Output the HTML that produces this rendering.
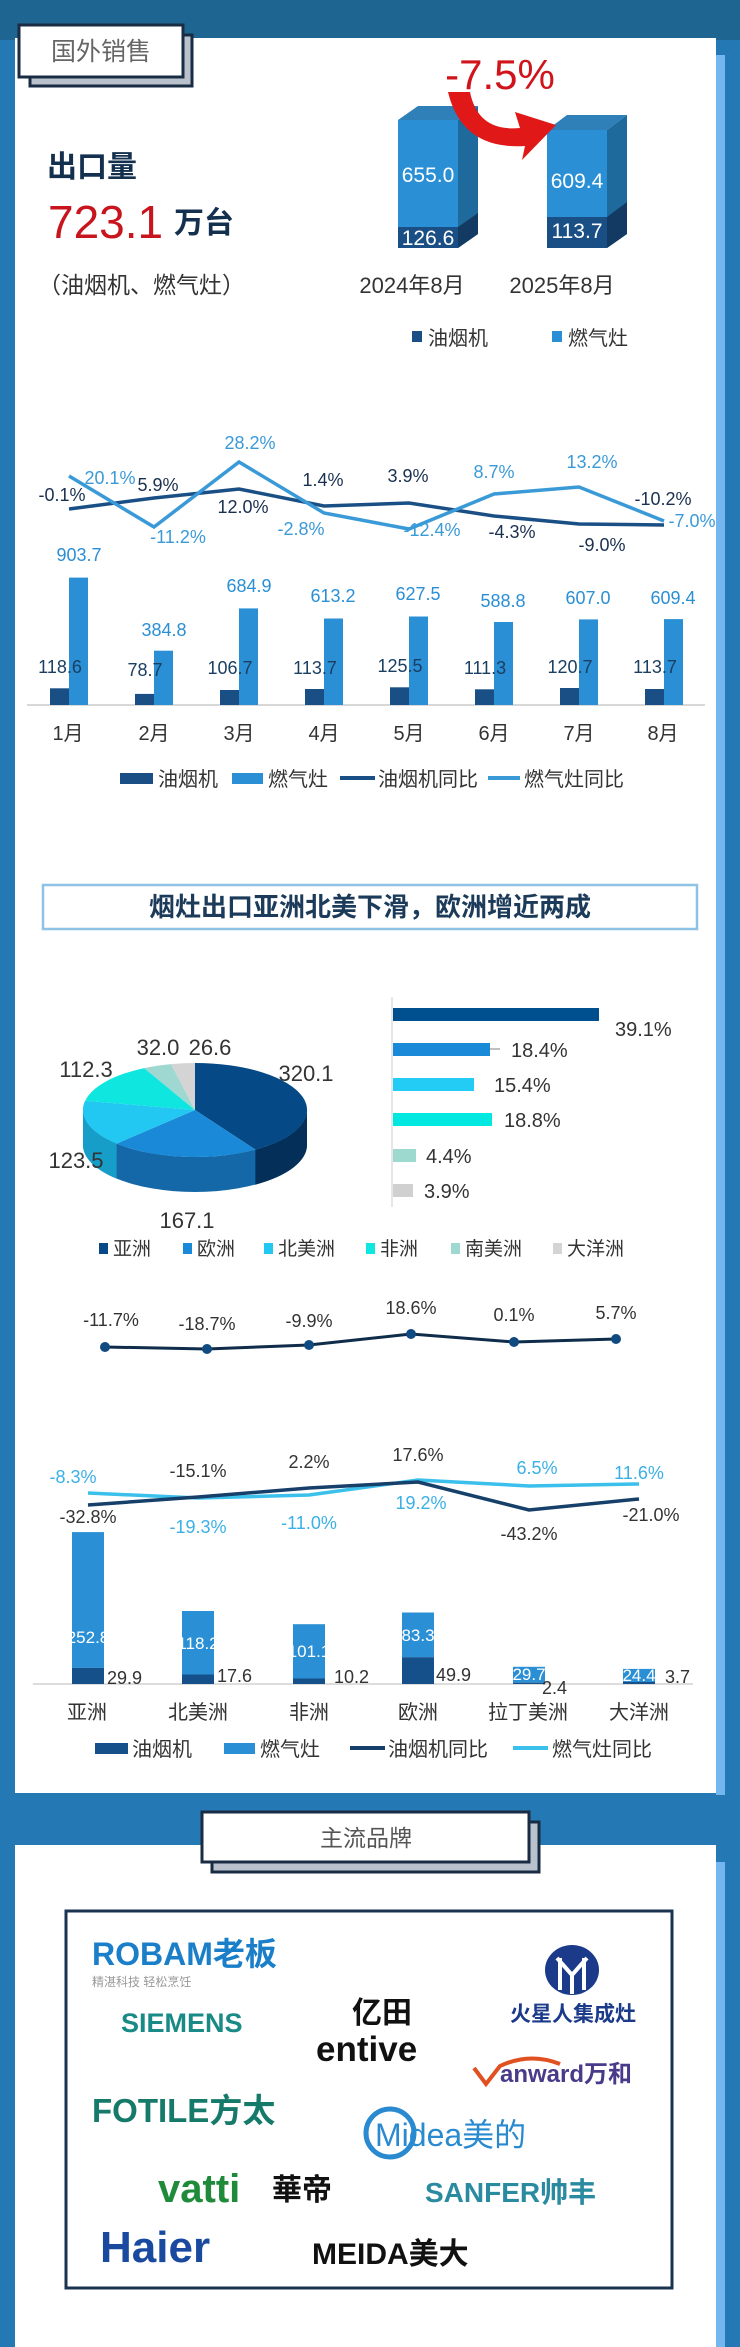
<!DOCTYPE html>
<html><head><meta charset="utf-8">
<style>
html,body{margin:0;padding:0;}
body{width:740px;height:2347px;overflow:hidden;background:#2478b3;}
svg{display:block;font-family:"Liberation Sans","Noto Sans CJK SC",sans-serif;}
</style></head><body>
<svg width="740" height="2347" viewBox="0 0 740 2347" xmlns="http://www.w3.org/2000/svg">
<rect x="0" y="0" width="740" height="2347" fill="#2478b3"/>
<rect x="0" y="0" width="740" height="40" fill="#1f6592"/>
<rect x="15" y="38" width="701" height="1755" fill="#ffffff"/>
<rect x="716" y="55" width="9" height="1740" fill="#74b6f0"/>
<rect x="15" y="1845" width="701" height="502" fill="#ffffff"/>
<rect x="716" y="1862" width="9" height="485" fill="#74b6f0"/>

<rect x="30" y="35" width="162" height="51" fill="#b9c2cc" stroke="#1a2c44" stroke-width="3"/>
<rect x="19" y="25" width="164" height="52" fill="#ffffff" stroke="#1a2c44" stroke-width="3"/>
<text x="101" y="60" font-size="25" fill="#666" text-anchor="middle">国外销售</text>

<text x="47" y="177" font-size="30" fill="#14304f" font-weight="bold">出口量</text>
<text x="48" y="238" font-size="46" fill="#c8141c">723.1</text>
<text x="174" y="233" font-size="30" fill="#14304f" font-weight="bold">万台</text>
<text x="38" y="293" font-size="23" fill="#333">（油烟机、燃气灶）</text>

<polygon points="398,120 458,120 478,106 418,106" fill="#2f7fb8"/>
<polygon points="458,120 478,106 478,234 458,248" fill="#1f6a9c"/>
<polygon points="458,227 478,213 478,234 458,248" fill="#123a62"/>
<rect x="398" y="120" width="60" height="107" fill="#2a8fd4"/>
<rect x="398" y="227" width="60" height="21" fill="#1a4f85"/>
<text x="428" y="182" font-size="21" fill="#fff" text-anchor="middle">655.0</text>
<text x="428" y="245" font-size="21" fill="#fff" text-anchor="middle">126.6</text>

<polygon points="547,130 607,130 627,115 567,115" fill="#2f7fb8"/>
<polygon points="607,130 627,115 627,234 607,248" fill="#1f6a9c"/>
<polygon points="607,217 627,202 627,234 607,248" fill="#123a62"/>
<rect x="547" y="130" width="60" height="87" fill="#2a8fd4"/>
<rect x="547" y="217" width="60" height="31" fill="#1a4f85"/>
<text x="577" y="188" font-size="21" fill="#fff" text-anchor="middle">609.4</text>
<text x="577" y="238" font-size="21" fill="#fff" text-anchor="middle">113.7</text>

<path d="M448 92 Q462 150 525 146 L522 160 L556 125 L515 112 L520 128 Q478 132 470 92 Z" fill="#e01818"/>
<text x="500" y="89" font-size="42" fill="#d0141c" text-anchor="middle">-7.5%</text>

<text x="412" y="293" font-size="22" fill="#333" text-anchor="middle">2024年8月</text>
<text x="562" y="293" font-size="22" fill="#333" text-anchor="middle">2025年8月</text>
<rect x="412" y="331" width="10" height="11" fill="#1a4f85"/>
<text x="428" y="345" font-size="20" fill="#333">油烟机</text>
<rect x="552" y="331" width="10" height="11" fill="#2a8fd4"/>
<text x="568" y="345" font-size="20" fill="#333">燃气灶</text>

<line x1="27" y1="705" x2="705" y2="705" stroke="#d8d8d8" stroke-width="2"/>
<g fill="#1a4f85">
<rect x="50" y="688.3" width="19" height="16.7"/>
<rect x="135" y="693.9" width="19" height="11.1"/>
<rect x="220" y="690" width="19" height="15"/>
<rect x="305" y="689" width="19" height="16"/>
<rect x="390" y="687.3" width="19" height="17.7"/>
<rect x="475" y="689.3" width="19" height="15.7"/>
<rect x="560" y="688" width="19" height="17"/>
<rect x="645" y="689" width="19" height="16"/>
</g>
<g fill="#2a8fd4">
<rect x="69" y="577.6" width="19" height="127.4"/>
<rect x="154" y="650.7" width="19" height="54.3"/>
<rect x="239" y="608.4" width="19" height="96.6"/>
<rect x="324" y="618.5" width="19" height="86.5"/>
<rect x="409" y="616.5" width="19" height="88.5"/>
<rect x="494" y="622" width="19" height="83"/>
<rect x="579" y="619.4" width="19" height="85.6"/>
<rect x="664" y="619.1" width="19" height="85.9"/>
</g>
<g font-size="18" fill="#2a8fd4" text-anchor="middle">
<text x="79" y="561">903.7</text><text x="164" y="636">384.8</text><text x="249" y="592">684.9</text><text x="333" y="602">613.2</text><text x="418" y="600">627.5</text><text x="503" y="607">588.8</text><text x="588" y="604">607.0</text><text x="673" y="604">609.4</text>
</g>
<g font-size="18" fill="#1a3f62" text-anchor="middle">
<text x="60" y="673">118.6</text><text x="145" y="676">78.7</text><text x="230" y="674">106.7</text><text x="315" y="674">113.7</text><text x="400" y="672">125.5</text><text x="485" y="674">111.3</text><text x="570" y="673">120.7</text><text x="655" y="673">113.7</text>
</g>
<polyline points="69,509 154,498 239,489 324,506 409,503 494,516 579,524 664,525" fill="none" stroke="#1a4f85" stroke-width="3.5"/>
<polyline points="69,476 154,527 239,462 324,513 409,529 494,494 579,487 664,521" fill="none" stroke="#3a9ad8" stroke-width="3.5"/>
<g font-size="18" fill="#1a3050" text-anchor="middle">
<text x="62" y="501">-0.1%</text><text x="158" y="491">5.9%</text><text x="243" y="513">12.0%</text><text x="323" y="486">1.4%</text><text x="408" y="482">3.9%</text><text x="512" y="538">-4.3%</text><text x="602" y="551">-9.0%</text><text x="663" y="505">-10.2%</text>
</g>
<g font-size="18" fill="#3a9ad8" text-anchor="middle">
<text x="110" y="484">20.1%</text><text x="178" y="543">-11.2%</text><text x="250" y="449">28.2%</text><text x="301" y="535">-2.8%</text><text x="432" y="536">-12.4%</text><text x="494" y="478">8.7%</text><text x="592" y="468">13.2%</text><text x="692" y="527">-7.0%</text>
</g>
<g font-size="20" fill="#333" text-anchor="middle">
<text x="68" y="740">1月</text><text x="154" y="740">2月</text><text x="239" y="740">3月</text><text x="324" y="740">4月</text><text x="409" y="740">5月</text><text x="494" y="740">6月</text><text x="579" y="740">7月</text><text x="663" y="740">8月</text>
</g>
<rect x="120" y="773" width="33" height="11" fill="#1a4f85"/>
<text x="158" y="786" font-size="20" fill="#333">油烟机</text>
<rect x="232" y="773" width="31" height="11" fill="#2a8fd4"/>
<text x="268" y="786" font-size="20" fill="#333">燃气灶</text>
<line x1="340" y1="778" x2="375" y2="778" stroke="#1a4f85" stroke-width="4"/>
<text x="378" y="786" font-size="20" fill="#333">油烟机同比</text>
<line x1="488" y1="778" x2="520" y2="778" stroke="#3a9ad8" stroke-width="4"/>
<text x="524" y="786" font-size="20" fill="#333">燃气灶同比</text>

<rect x="43" y="885" width="654" height="44" fill="#fff" stroke="#8ec3e6" stroke-width="2.5"/>
<text x="370" y="916" font-size="26" fill="#1c3b5a" text-anchor="middle" font-weight="bold">烟灶出口亚洲北美下滑，欧洲增近两成</text>

<path d="M83 1110 A112 47 0 0 0 307 1110 L307 1145 A112 47 0 0 1 83 1145 Z" fill="#1468a8"/>
<path d="M307 1110 A112 47 0 0 1 255.4 1149.6 L255.4 1184.6 A112 47 0 0 0 307 1145 Z" fill="#032f58"/>
<path d="M116.6 1143.6 A112 47 0 0 1 83 1110 L83 1145 A112 47 0 0 0 116.6 1178.6 Z" fill="#179ec8"/>
<path d="M195 1110 L195 1063 A112 47 0 0 1 255.4 1149.6 Z" fill="#054a86"/>
<path d="M195 1110 L255.4 1149.6 A112 47 0 0 1 116.6 1143.6 Z" fill="#1a8ad8"/>
<path d="M195 1110 L116.6 1143.6 A112 47 0 0 1 85.1 1100.8 Z" fill="#22c8f2"/>
<path d="M195 1110 L85.1 1100.8 A112 47 0 0 1 144.2 1068.1 Z" fill="#10e6e0"/>
<path d="M195 1110 L144.2 1068.1 A112 47 0 0 1 171.1 1064.1 Z" fill="#9fd8d0"/>
<path d="M195 1110 L171.1 1064.1 A112 47 0 0 1 195 1063 Z" fill="#d4d4d4"/>
<g font-size="22" fill="#333" text-anchor="middle">
<text x="306" y="1081">320.1</text><text x="187" y="1228">167.1</text><text x="76" y="1168">123.5</text><text x="86" y="1077">112.3</text><text x="158" y="1055">32.0</text><text x="210" y="1055">26.6</text>
</g>
<line x1="392" y1="997" x2="392" y2="1207" stroke="#ddd" stroke-width="1.5"/>
<rect x="393" y="1008" width="206" height="13" fill="#004f8f"/>
<rect x="393" y="1043" width="97" height="13" fill="#1a8ad8"/>
<line x1="490" y1="1049" x2="500" y2="1049" stroke="#aaa" stroke-width="1.5"/>
<rect x="393" y="1078" width="81" height="13" fill="#22ccf5"/>
<rect x="393" y="1113" width="99" height="13" fill="#00e8e0"/>
<rect x="393" y="1149" width="23" height="13" fill="#9ed9d0"/>
<rect x="393" y="1184" width="20" height="13" fill="#d0d0d0"/>
<g font-size="20" fill="#333">
<text x="615" y="1036">39.1%</text><text x="511" y="1057">18.4%</text><text x="494" y="1092">15.4%</text><text x="504" y="1127">18.8%</text><text x="426" y="1163">4.4%</text><text x="424" y="1198">3.9%</text>
</g>
<g font-size="19" fill="#333">
<rect x="99" y="1243" width="9" height="11" fill="#054a86"/><text x="113" y="1255">亚洲</text>
<rect x="183" y="1243" width="9" height="11" fill="#1a8ad8"/><text x="197" y="1255">欧洲</text>
<rect x="264" y="1243" width="9" height="11" fill="#22c8f2"/><text x="278" y="1255">北美洲</text>
<rect x="366" y="1243" width="9" height="11" fill="#10e6e0"/><text x="380" y="1255">非洲</text>
<rect x="451" y="1243" width="9" height="11" fill="#9fd8d0"/><text x="465" y="1255">南美洲</text>
<rect x="553" y="1243" width="9" height="11" fill="#d4d4d4"/><text x="567" y="1255">大洋洲</text>
</g>

<polyline points="105,1347 207,1349 309,1345 411,1334 514,1342 616,1339" fill="none" stroke="#0f2c4a" stroke-width="3"/>
<g fill="#0f4a80">
<circle cx="105" cy="1347" r="5"/><circle cx="207" cy="1349" r="5"/><circle cx="309" cy="1345" r="5"/><circle cx="411" cy="1334" r="5"/><circle cx="514" cy="1342" r="5"/><circle cx="616" cy="1339" r="5"/>
</g>
<g font-size="18" fill="#333" text-anchor="middle">
<text x="111" y="1326">-11.7%</text><text x="207" y="1330">-18.7%</text><text x="309" y="1327">-9.9%</text><text x="411" y="1314">18.6%</text><text x="514" y="1321">0.1%</text><text x="616" y="1319">5.7%</text>
</g>

<line x1="33" y1="1684" x2="693" y2="1684" stroke="#ddd" stroke-width="2"/>
<g fill="#2a8fd4">
<rect x="72" y="1532.1" width="32" height="135.8"/>
<rect x="182" y="1611" width="32" height="63.5"/>
<rect x="293" y="1624.2" width="32" height="54.3"/>
<rect x="402" y="1612.5" width="32" height="44.7"/>
<rect x="513" y="1666.8" width="32" height="15.9"/>
<rect x="623" y="1668.9" width="32" height="13.1"/>
</g>
<g fill="#15508a">
<rect x="72" y="1667.9" width="32" height="16.1"/>
<rect x="182" y="1674.5" width="32" height="9.5"/>
<rect x="293" y="1678.5" width="32" height="5.5"/>
<rect x="402" y="1657.2" width="32" height="26.8"/>
<rect x="513" y="1682.7" width="32" height="1.3"/>
<rect x="623" y="1682" width="32" height="2"/>
</g>
<g font-size="17" fill="#fff" text-anchor="middle">
<text x="88" y="1643">252.8</text><text x="198" y="1649">118.2</text><text x="309" y="1657">101.1</text><text x="418" y="1641">83.3</text><text x="529" y="1680">29.7</text><text x="639" y="1681">24.4</text>
</g>
<g font-size="18" fill="#333">
<text x="107" y="1684">29.9</text><text x="217" y="1682">17.6</text><text x="334" y="1683">10.2</text><text x="436" y="1681">49.9</text><text x="542" y="1694">2.4</text><text x="665" y="1683">3.7</text>
</g>
<polyline points="88,1493 198,1498 309,1495 418,1480 529,1486 639,1484" fill="none" stroke="#3ac0ea" stroke-width="3.5"/>
<polyline points="88,1505 198,1497 309,1488 418,1482 529,1510 639,1499" fill="none" stroke="#163f6a" stroke-width="3.5"/>
<g font-size="18" fill="#3ab0e6" text-anchor="middle">
<text x="73" y="1483">-8.3%</text><text x="198" y="1533">-19.3%</text><text x="309" y="1529">-11.0%</text><text x="421" y="1509">19.2%</text><text x="537" y="1474">6.5%</text><text x="639" y="1479">11.6%</text>
</g>
<g font-size="18" fill="#333" text-anchor="middle">
<text x="88" y="1523">-32.8%</text><text x="198" y="1477">-15.1%</text><text x="309" y="1468">2.2%</text><text x="418" y="1461">17.6%</text><text x="529" y="1540">-43.2%</text><text x="651" y="1521">-21.0%</text>
</g>
<g font-size="20" fill="#333" text-anchor="middle">
<text x="87" y="1719">亚洲</text><text x="198" y="1719">北美洲</text><text x="309" y="1719">非洲</text><text x="418" y="1719">欧洲</text><text x="528" y="1719">拉丁美洲</text><text x="639" y="1719">大洋洲</text>
</g>
<rect x="95" y="1743" width="33" height="11" fill="#15508a"/>
<text x="132" y="1756" font-size="20" fill="#333">油烟机</text>
<rect x="224" y="1743" width="31" height="11" fill="#2a8fd4"/>
<text x="260" y="1756" font-size="20" fill="#333">燃气灶</text>
<line x1="350" y1="1748" x2="385" y2="1748" stroke="#163f6a" stroke-width="4"/>
<text x="388" y="1756" font-size="20" fill="#333">油烟机同比</text>
<line x1="513" y1="1748" x2="548" y2="1748" stroke="#3ac0ea" stroke-width="4"/>
<text x="552" y="1756" font-size="20" fill="#333">燃气灶同比</text>

<rect x="212" y="1822" width="327" height="50" fill="#b9c2cc" stroke="#1a2c44" stroke-width="3"/>
<rect x="202" y="1812" width="327" height="50" fill="#ffffff" stroke="#1a2c44" stroke-width="3"/>
<text x="366" y="1846" font-size="23" fill="#555" text-anchor="middle">主流品牌</text>

<rect x="66" y="1911" width="606" height="377" fill="#fff" stroke="#1a3350" stroke-width="3"/>
<text x="92" y="1965" font-size="32" font-weight="bold" fill="#1a7fc8">ROBAM老板</text>
<text x="92" y="1986" font-size="12" fill="#999">精湛科技  轻松烹饪</text>
<text x="121" y="2032" font-size="27" font-weight="bold" fill="#1a8a86">SIEMENS</text>
<text x="352" y="2023" font-size="30" font-weight="bold" fill="#111">亿田</text>
<text x="316" y="2061" font-size="35" font-weight="bold" fill="#111">entive</text>
<ellipse cx="572" cy="1970" rx="27" ry="25" fill="#1b3a8a"/>
<path d="M557 1958 L572 1975 L587 1958 M572 1975 L572 1994 M560 1958 L560 1990 M584 1958 L584 1990" stroke="#fff" stroke-width="4" fill="none"/>
<text x="510" y="2021" font-size="21" font-weight="bold" fill="#1b3a8a">火星人集成灶</text>
<path d="M474 2068 L486 2084 L500 2066 Q530 2052 560 2064" stroke="#e05020" stroke-width="4" fill="none"/>
<text x="500" y="2082" font-size="24" font-weight="bold" fill="#4a3a8a">anward万和</text>
<text x="92" y="2122" font-size="33" font-weight="bold" fill="#157a6a">FOTILE方太</text>
<circle cx="390" cy="2133" r="24" fill="none" stroke="#2a8ad0" stroke-width="5"/>
<text x="375" y="2146" font-size="32" fill="#2a8ad0">Midea美的</text>
<text x="158" y="2202" font-size="40" font-weight="bold" fill="#1f8a3a">vatti</text>
<text x="272" y="2200" font-size="30" font-weight="bold" fill="#111">華帝</text>
<text x="425" y="2202" font-size="28" font-weight="bold" fill="#2a8aa0">SANFER帅丰</text>
<text x="100" y="2262" font-size="44" font-weight="bold" fill="#1a4aa0">Haier</text>
<text x="312" y="2264" font-size="30" font-weight="bold" fill="#111">MEIDA美大</text>
</svg>
</body></html>
